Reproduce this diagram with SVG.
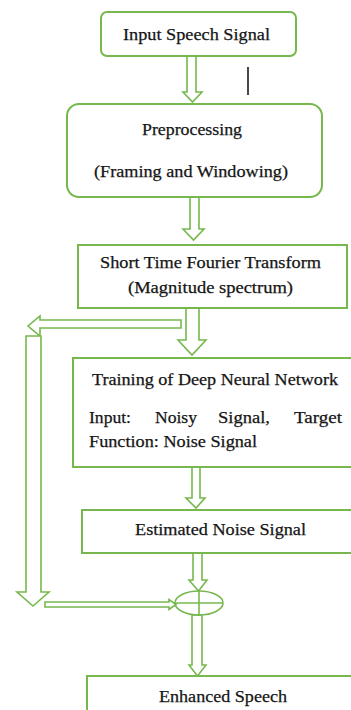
<svg xmlns="http://www.w3.org/2000/svg" width="351" height="710" viewBox="0 0 351 710">
  <style>
    .box { fill: #ffffff; stroke: #76b84e; stroke-width: 2; }
    .arrow { fill: #ffffff; stroke: #76b84e; stroke-width: 1.6; stroke-linejoin: miter; }
    .line { fill: none; stroke: #76b84e; stroke-width: 1.6; }
  </style>
  <rect width="351" height="710" fill="#ffffff"/>

  <g id="connectors">
    <!-- input -> preprocessing -->
    <polygon class="arrow" points="187,56 196,56 196,92 202,92 192.5,102 183,92 187,92"/>
    <!-- preprocessing -> STFT -->
    <polygon class="arrow" points="190,197 199,197 199,229 204,229 193.5,240 183,229 190,229"/>
    <!-- STFT -> DNN -->
    <polygon class="arrow" points="186,308 199,308 199,340 206,340 192,355 178,340 186,340"/>
    <!-- STFT branch to the left -->
    <polygon class="arrow" points="181,320 181,328 40,328 40,336 28,326 40,316 40,320"/>
    <!-- long vertical branch down -->
    <polygon class="arrow" points="26,336 41,336 41,592 49,592 33,606 17,592 26,592"/>
    <!-- branch into the combiner -->
    <polygon class="arrow" points="45,602 169,602 169,599.5 176,604.5 169,609.5 169,607 45,607"/>
    <!-- DNN -> estimated noise -->
    <polygon class="arrow" points="192,467 200,467 200,498 205,498 196,508 186,498 192,498"/>
    <!-- estimated noise -> combiner -->
    <polygon class="arrow" points="193,553 202,553 202,580 207,580 198.5,591 189,580 193,580"/>
    <!-- combiner -> enhanced speech -->
    <polygon class="arrow" points="192,615 202,615 202,665 206,665 197.5,676 189,665 192,665"/>
    <!-- short vertical mark -->
    <line x1="248" y1="67" x2="248" y2="95" stroke="#1a1a1a" stroke-width="1.6"/>
  </g>

  <g id="input">
    <rect class="box" x="101" y="12" width="195" height="44" rx="6"/>
    <text x="196.5" y="40" font-family="'Liberation Serif', serif" font-size="17" fill="#151515" stroke="#151515" stroke-width="0.25" text-anchor="middle" textLength="147" lengthAdjust="spacingAndGlyphs">Input Speech Signal</text>
  </g>

  <g id="preprocessing">
    <rect class="box" x="67" y="104" width="255" height="93" rx="12"/>
    <text x="192" y="135" font-family="'Liberation Serif', serif" font-size="17" fill="#151515" stroke="#151515" stroke-width="0.25" text-anchor="middle" textLength="100" lengthAdjust="spacingAndGlyphs">Preprocessing</text>
    <text x="191" y="177" font-family="'Liberation Serif', serif" font-size="17" fill="#151515" stroke="#151515" stroke-width="0.25" text-anchor="middle" textLength="194" lengthAdjust="spacingAndGlyphs">(Framing and Windowing)</text>
  </g>

  <g id="stft">
    <rect class="box" x="78" y="245" width="269" height="63"/>
    <text x="210.5" y="268" font-family="'Liberation Serif', serif" font-size="17" fill="#151515" stroke="#151515" stroke-width="0.25" text-anchor="middle" textLength="221" lengthAdjust="spacingAndGlyphs">Short Time Fourier Transform</text>
    <text x="210.5" y="293" font-family="'Liberation Serif', serif" font-size="17" fill="#151515" stroke="#151515" stroke-width="0.25" text-anchor="middle" textLength="165" lengthAdjust="spacingAndGlyphs">(Magnitude spectrum)</text>
  </g>

  <g id="dnn">
    <rect class="box" x="73" y="358" width="290" height="109"/>
    <text x="92" y="385" font-family="'Liberation Serif', serif" font-size="17" fill="#151515" stroke="#151515" stroke-width="0.25" textLength="246" lengthAdjust="spacingAndGlyphs">Training of Deep Neural Network</text>
    <text x="89" y="423" font-family="'Liberation Serif', serif" font-size="17" fill="#151515" stroke="#151515" stroke-width="0.25" textLength="42" lengthAdjust="spacingAndGlyphs">Input:</text>
    <text x="155" y="423" font-family="'Liberation Serif', serif" font-size="17" fill="#151515" stroke="#151515" stroke-width="0.25" textLength="42" lengthAdjust="spacingAndGlyphs">Noisy</text>
    <text x="218" y="423" font-family="'Liberation Serif', serif" font-size="17" fill="#151515" stroke="#151515" stroke-width="0.25" textLength="52" lengthAdjust="spacingAndGlyphs">Signal,</text>
    <text x="294" y="423" font-family="'Liberation Serif', serif" font-size="17" fill="#151515" stroke="#151515" stroke-width="0.25" textLength="48" lengthAdjust="spacingAndGlyphs">Target</text>
    <text x="89" y="447" font-family="'Liberation Serif', serif" font-size="17" fill="#151515" stroke="#151515" stroke-width="0.25" textLength="168" lengthAdjust="spacingAndGlyphs">Function: Noise Signal</text>
  </g>

  <g id="estimated-noise">
    <rect class="box" x="82" y="510" width="280" height="43"/>
    <text x="220.5" y="535" font-family="'Liberation Serif', serif" font-size="17" fill="#151515" stroke="#151515" stroke-width="0.25" text-anchor="middle" textLength="171" lengthAdjust="spacingAndGlyphs">Estimated Noise Signal</text>
  </g>

  <g id="combiner">
    <ellipse class="line" cx="199" cy="603" rx="24" ry="12" fill="#ffffff"/>
    <line class="line" x1="175" y1="603" x2="223" y2="603"/>
    <line class="line" x1="199" y1="591" x2="199" y2="615"/>
  </g>

  <g id="enhanced">
    <rect class="box" x="87" y="676" width="280" height="40"/>
    <text x="223" y="702" font-family="'Liberation Serif', serif" font-size="17" fill="#151515" stroke="#151515" stroke-width="0.25" text-anchor="middle" textLength="128" lengthAdjust="spacingAndGlyphs">Enhanced Speech</text>
  </g>
</svg>
